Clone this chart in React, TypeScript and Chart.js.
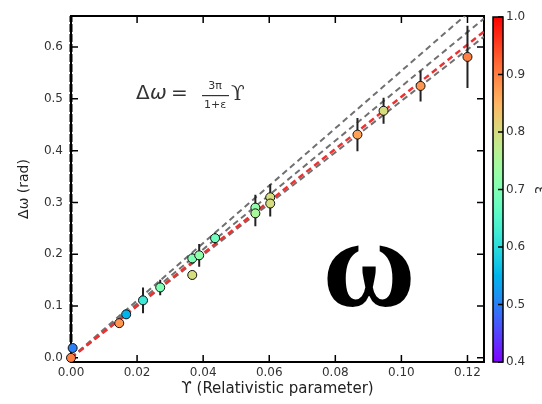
import React, { useEffect, useRef } from "react";
import { Chart, registerables } from "chart.js";
Chart.register(...registerables);

// ---- data ----
const xTicks = [0, 0.02, 0.04, 0.06, 0.08, 0.1, 0.12];
const yTicks = [0, 0.1, 0.2, 0.3, 0.4, 0.5, 0.6];
const cbTicks = [0.4, 0.5, 0.6, 0.7, 0.8, 0.9, 1.0];

const upsilon = [0, 0.0005, 0.0146, 0.0167, 0.0218, 0.027, 0.0367, 0.0388, 0.0367, 0.0436, 0.0558, 0.0558, 0.0603, 0.0603, 0.0867, 0.0946, 0.1058, 0.12];
const deltaOmega = [0, 0.019, 0.067, 0.084, 0.111, 0.136, 0.192, 0.198, 0.16, 0.231, 0.29, 0.279, 0.31, 0.298, 0.431, 0.477, 0.525, 0.581];
const deltaErr = [0, 0, 0.006, 0.008, 0.025, 0.015, 0.01, 0.022, 0.008, 0.01, 0.025, 0.025, 0.025, 0.025, 0.032, 0.025, 0.03, 0.06];
const eccentricity = [0.9, 0.5, 0.88, 0.55, 0.62, 0.7, 0.7, 0.72, 0.8, 0.68, 0.72, 0.75, 0.8, 0.8, 0.87, 0.8, 0.88, 0.9];

const xLineEnd = 0.125;
const graySlopes = [5.54, 5.24, 4.96];
const redSlope = 5.04;

const CB_MIN = 0.4;
const CB_MAX = 1.0;

function rainbow(v: number): string {
  const t = Math.min(1, Math.max(0, (v - CB_MIN) / (CB_MAX - CB_MIN)));
  const r = Math.min(1, Math.abs(2 * t - 0.5));
  const g = Math.max(0, Math.sin(Math.PI * t));
  const b = Math.max(0, Math.cos((Math.PI * t) / 2));
  return `rgb(${Math.round(r * 255)},${Math.round(g * 255)},${Math.round(b * 255)})`;
}

export default function App() {
  const ref = useRef<HTMLCanvasElement>(null);

  useEffect(() => {
    const canvas = ref.current!;
    const points = upsilon.map((x, i) => ({ x, y: deltaOmega[i] }));
    const colors = eccentricity.map(rainbow);

    const framePlugin = {
      id: "frame",
      beforeDatasetsDraw(chart: any) {
        const { ctx, chartArea } = chart;
        const xs = chart.scales.x;
        const ys = chart.scales.y;
        const { left, right, top, bottom } = chartArea;
        ctx.save();
        ctx.strokeStyle = "#000";
        ctx.lineWidth = 2;
        ctx.strokeRect(left, top, right - left, bottom - top);
        ctx.lineWidth = 1.5;
        ctx.beginPath();
        for (const v of xTicks) {
          const px = xs.getPixelForValue(v);
          ctx.moveTo(px, bottom);
          ctx.lineTo(px, bottom - 7);
          ctx.moveTo(px, top);
          ctx.lineTo(px, top + 7);
        }
        for (const v of yTicks) {
          const py = ys.getPixelForValue(v);
          ctx.moveTo(left, py);
          ctx.lineTo(left + 7, py);
          ctx.moveTo(right, py);
          ctx.lineTo(right - 7, py);
        }
        ctx.stroke();
        ctx.restore();
      },
      beforeDatasetDraw(chart: any, args: any) {
        if (args.index !== 0) return;
        const { ctx } = chart;
        const xs = chart.scales.x;
        const ys = chart.scales.y;
        ctx.save();
        ctx.strokeStyle = "#222";
        ctx.lineWidth = 2;
        ctx.beginPath();
        upsilon.forEach((x, i) => {
          const e = deltaErr[i];
          if (!e) return;
          const px = xs.getPixelForValue(x);
          ctx.moveTo(px, ys.getPixelForValue(deltaOmega[i] - e));
          ctx.lineTo(px, ys.getPixelForValue(deltaOmega[i] + e));
        });
        ctx.stroke();
        ctx.restore();
      },
      afterDraw(chart: any) {
        const { ctx, chartArea } = chart;
        ctx.save();
        // colorbar
        const cbL = 493, cbR = 503;
        const cbT = chartArea.top + 1, cbB = chartArea.bottom;
        const grad = ctx.createLinearGradient(0, cbB, 0, cbT);
        for (let k = 0; k <= 40; k++) {
          const f = k / 40;
          grad.addColorStop(f, rainbow(CB_MIN + f * (CB_MAX - CB_MIN)));
        }
        ctx.fillStyle = grad;
        ctx.fillRect(cbL, cbT, cbR - cbL, cbB - cbT);
        ctx.strokeStyle = "#000";
        ctx.lineWidth = 1.5;
        ctx.strokeRect(cbL, cbT, cbR - cbL, cbB - cbT);
        ctx.font = "12px 'DejaVu Sans'";
        ctx.fillStyle = "#333";
        ctx.textAlign = "left";
        ctx.textBaseline = "middle";
        ctx.beginPath();
        for (const v of cbTicks) {
          const py = cbB - ((v - CB_MIN) / (CB_MAX - CB_MIN)) * (cbB - cbT);
          ctx.moveTo(cbR - 5, py);
          ctx.lineTo(cbR, py);
          ctx.fillText(v.toFixed(1), cbR + 3, py);
        }
        ctx.stroke();
        // colorbar label
        ctx.save();
        ctx.translate(539, 190);
        ctx.rotate(Math.PI / 2);
        ctx.textAlign = "center";
        ctx.font = "15px 'DejaVu Sans'";
        ctx.fillText("ε", 0, 0);
        ctx.restore();

        // formula annotation
        ctx.fillStyle = "#333";
        ctx.textAlign = "left";
        ctx.textBaseline = "alphabetic";
        ctx.font = "20px 'DejaVu Sans'";
        ctx.fillText("Δ", 136, 99);
        ctx.font = "italic 20px 'DejaVu Sans'";
        ctx.fillText("ω", 150, 99);
        ctx.font = "20px 'DejaVu Sans'";
        ctx.fillText("=", 171, 99);
        ctx.font = "11px 'DejaVu Sans'";
        ctx.textAlign = "center";
        ctx.fillText("3π", 215, 89);
        ctx.fillText("1+ε", 215, 108);
        ctx.fillRect(202, 95, 27, 1.2);
        ctx.textAlign = "left";
        ctx.font = "20px 'DejaVu Serif'";
        ctx.fillText("ϒ", 231, 100);

        // big omega
        ctx.fillStyle = "#000";
        ctx.textAlign = "center";
        ctx.font = "bold 128px 'Liberation Serif'";
        ctx.fillText("ω", 369, 306);
        ctx.restore();
      },
    };

    const chart = new Chart(canvas, {
      type: "scatter",
      data: {
        datasets: [
          {
            type: "scatter",
            data: points,
            backgroundColor: colors,
            borderColor: "#111",
            borderWidth: 1,
            pointRadius: 4.5,
            clip: false as any,
            order: 0,
          } as any,
          {
            type: "line",
            data: [{ x: 0, y: 0 }, { x: xLineEnd, y: redSlope * xLineEnd }],
            borderColor: "#ee3030",
            borderWidth: 2.5,
            borderDash: [6, 4],
            pointRadius: 0,
            order: 1,
          },
          ...graySlopes.map((s, i) => ({
            type: "line",
            data: [{ x: 0, y: 0 }, { x: xLineEnd, y: s * xLineEnd }],
            borderColor: "#707070",
            borderWidth: 2,
            borderDash: [6, 4],
            pointRadius: 0,
            order: 2 + i,
          })),
          {
            type: "line",
            data: [{ x: 0, y: -0.008 }, { x: 0, y: 0.66 }],
            borderColor: "#000",
            borderWidth: 3,
            borderDash: [8, 2],
            pointRadius: 0,
            clip: false as any,
            order: 9,
          },
        ] as any,
      },
      options: {
        responsive: false,
        animation: false,
        devicePixelRatio: 1,
        layout: { padding: { top: 16, right: 58, left: 0, bottom: 0 } },
        plugins: { legend: { display: false }, tooltip: { enabled: false } },
        scales: {
          x: {
            type: "linear",
            min: 0,
            max: 0.125,
            afterBuildTicks: (s: any) => {
              s.ticks = xTicks.map((v) => ({ value: v }));
            },
            afterFit: (s: any) => {
              s.height = 42;
            },
            grid: { display: false, drawTicks: false, tickLength: 0 },
            border: { display: false },
            ticks: {
              padding: 4,
              color: "#333",
              font: { family: "'DejaVu Sans'", size: 12 },
              maxRotation: 0,
              autoSkip: false,
              callback: (v: any) => Number(v).toFixed(2),
            },
            title: {
              display: true,
              text: "ϒ (Relativistic parameter)",
              color: "#222",
              font: { family: "'DejaVu Sans'", size: 15 },
              padding: { top: 0, bottom: 6 },
            },
          },
          y: {
            type: "linear",
            min: -0.008,
            max: 0.66,
            afterBuildTicks: (s: any) => {
              s.ticks = yTicks.map((v) => ({ value: v }));
            },
            afterFit: (s: any) => {
              s.width = 71;
            },
            grid: { display: false, drawTicks: false, tickLength: 0 },
            border: { display: false },
            ticks: {
              padding: 8,
              color: "#333",
              font: { family: "'DejaVu Sans'", size: 12 },
              autoSkip: false,
              callback: (v: any) => Number(v).toFixed(1),
            },
            title: {
              display: true,
              text: "Δω (rad)",
              color: "#222",
              font: { family: "'DejaVu Sans'", size: 14 },
              padding: { top: 16, bottom: 0 },
            },
          },
        },
      } as any,
      plugins: [framePlugin],
    });

    return () => chart.destroy();
  }, []);

  return (
    <div style={{ position: "fixed", left: 0, top: 0, width: 542, height: 404, background: "#fff" }}>
      <canvas ref={ref} width={542} height={404} style={{ display: "block", width: 542, height: 404 }} />
    </div>
  );
}
